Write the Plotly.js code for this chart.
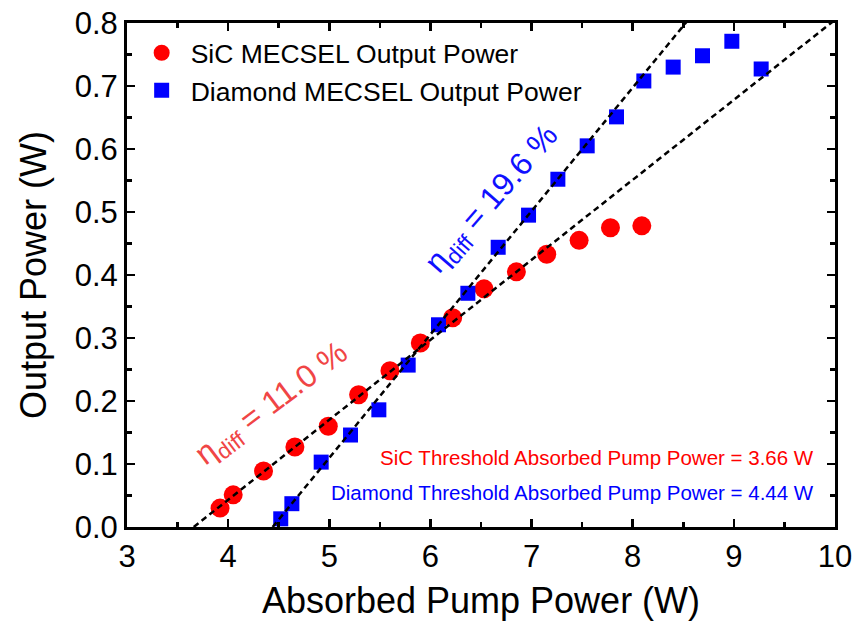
<!DOCTYPE html>
<html>
<head>
<meta charset="utf-8">
<script src="https://cdn.plot.ly/plotly-3.0.1.min.js"></script>
<style>html,body{margin:0;padding:0;background:#fff;}#chart{width:859px;height:626px;}</style>
</head>
<body>
<div id="chart"></div>
<script>
// SiC MECSEL data
const sicPump = [3.92, 4.05, 4.35, 4.66, 4.99, 5.29, 5.60, 5.90, 6.22, 6.53, 6.85, 7.15, 7.47, 7.78, 8.09];
const sicOut  = [0.030, 0.051, 0.089, 0.127, 0.160, 0.210, 0.248, 0.292, 0.332, 0.378, 0.405, 0.433, 0.455, 0.475, 0.478];
// Diamond MECSEL data
const diaPump = [4.52, 4.63, 4.92, 5.21, 5.49, 5.78, 6.08, 6.37, 6.67, 6.97, 7.26, 7.55, 7.84, 8.11, 8.40, 8.69, 8.98, 9.27];
const diaOut  = [0.013, 0.037, 0.103, 0.146, 0.186, 0.257, 0.321, 0.371, 0.444, 0.495, 0.552, 0.605, 0.651, 0.708, 0.730, 0.748, 0.771, 0.727];
// Linear fits (as drawn)
const sicFitX = [3.66, 10.0];
const sicFitY = [0.0, 0.805];
const diaFitX = [4.44, 8.60];
const diaFitY = [0.0, 0.815];
// Labels
const sicName = "SiC MECSEL Output Power";
const diaName = "Diamond MECSEL Output Power";
const sicEff = "\u03b7<sub>diff</sub> = 11.0 %";
const diaEff = "\u03b7<sub>diff</sub> = 19.6 %";
const sicThr = "SiC Threshold Absorbed Pump Power = 3.66 W";
const diaThr = "Diamond Threshold Absorbed Pump Power = 4.44 W";
const xTicks = [3, 4, 5, 6, 7, 8, 9, 10];
const yTicks = [0.0, 0.1, 0.2, 0.3, 0.4, 0.5, 0.6, 0.7, 0.8];

const FONT = "Liberation Sans, Arial, sans-serif";

const traces = [
  {x: sicPump, y: sicOut, mode: 'markers', name: sicName, marker: {symbol: 'circle', size: 19, color: '#ff0000'}, cliponaxis: false},
  {x: diaPump, y: diaOut, mode: 'markers', name: diaName, marker: {symbol: 'square', size: 15, color: '#0000ff'}, cliponaxis: false},
  {x: sicFitX, y: sicFitY, mode: 'lines', line: {color: '#000', width: 2.5, dash: '6px,4px'}, showlegend: false, hoverinfo: 'skip'},
  {x: diaFitX, y: diaFitY, mode: 'lines', line: {color: '#000', width: 2.5, dash: '6px,4px'}, showlegend: false, hoverinfo: 'skip'}
];

const axisCommon = {
  showline: true, linecolor: '#000', linewidth: 3, mirror: 'ticks',
  ticks: 'inside', ticklen: 8, tickwidth: 2.5, tickcolor: '#000',
  showgrid: false, zeroline: false,
  tickfont: {family: FONT, size: 31, color: '#000'}
};

const layout = {
  width: 859, height: 626,
  margin: {l: 127, r: 24, t: 23, b: 99},
  paper_bgcolor: '#fff', plot_bgcolor: '#fff',
  font: {family: FONT, color: '#000'},
  showlegend: true,
  legend: {x: 0.008, y: 0.988, xanchor: 'left', yanchor: 'top', bgcolor: 'rgba(0,0,0,0)',
           font: {family: FONT, size: 26.5, color: '#000'}, itemwidth: 48, tracegroupgap: 0},
  xaxis: Object.assign({}, axisCommon, {
    range: [3, 10], tickvals: xTicks, ticktext: xTicks.map(String),
    minor: {dtick: 0.5, ticks: 'inside', ticklen: 5, tickwidth: 2.5, tickcolor: '#000', showgrid: false},
    title: {text: 'Absorbed Pump Power (W)', font: {family: FONT, size: 36, color: '#000'}, standoff: 15}
  }),
  yaxis: Object.assign({}, axisCommon, {
    range: [0, 0.8], tickvals: yTicks, ticktext: yTicks.map(v => v.toFixed(1)),
    minor: {dtick: 0.05, ticks: 'inside', ticklen: 5, tickwidth: 2.5, tickcolor: '#000', showgrid: false},
    title: {text: 'Output Power (W)', font: {family: FONT, size: 36, color: '#000'}, standoff: 18}
  }),
  annotations: [
    {x: 4.44, y: 0.194, xref: 'x', yref: 'y', text: sicEff, showarrow: false, textangle: -37,
     font: {family: FONT, size: 32, color: '#f04545'}},
    {x: 6.61, y: 0.519, xref: 'x', yref: 'y', text: diaEff, showarrow: false, textangle: -49,
     font: {family: FONT, size: 32, color: '#1010ff'}},
    {x: 9.81, y: 0.110, xref: 'x', yref: 'y', text: sicThr, showarrow: false, xanchor: 'right',
     font: {family: FONT, size: 20.5, color: '#ff0000'}},
    {x: 9.81, y: 0.054, xref: 'x', yref: 'y', text: diaThr, showarrow: false, xanchor: 'right',
     font: {family: FONT, size: 20.5, color: '#0000ff'}}
  ]
};

Plotly.newPlot('chart', traces, layout, {displayModeBar: false, staticPlot: true});
</script>
</body>
</html>
